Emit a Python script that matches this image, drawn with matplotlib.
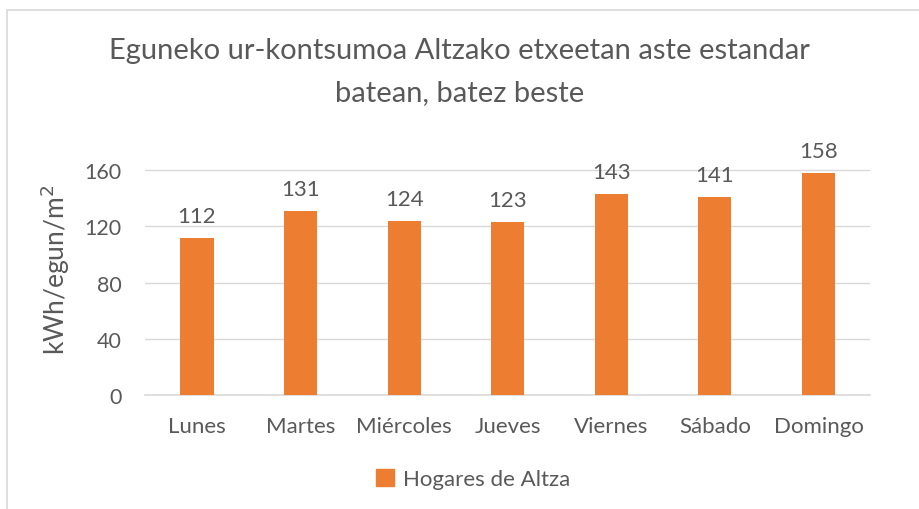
import matplotlib.pyplot as plt
from matplotlib.patches import Rectangle, Patch

days = ['Lunes', 'Martes', 'Miércoles', 'Jueves', 'Viernes', 'Sábado', 'Domingo']
kwh = [112, 131, 124, 123, 143, 141, 158]
yticks = [0, 40, 80, 120, 160]

orange = '#ED7D31'
textgray = '#595959'
plt.rcParams['font.family'] = ['Lato', 'DejaVu Sans']

fig = plt.figure(figsize=(9.19, 5.1), dpi=100)
ax = fig.add_axes([0.158, 0.2235, 0.789, 0.4961])

x = range(len(days))
bars = ax.bar(x, kwh, width=0.32, color=orange, zorder=3)
for b, v in zip(bars, kwh):
    ax.text(b.get_x() + b.get_width() / 2, v + 8.5, str(v), ha='center', va='bottom',
            fontsize=16, color=textgray)

ax.set_xlim(-0.5, len(days) - 0.5)
ax.set_ylim(0, 180)
ax.set_yticks(yticks)
ax.set_xticks(list(x))
ax.set_xticklabels(days)
ax.tick_params(axis='both', length=0, labelsize=16, labelcolor=textgray)
ax.tick_params(axis='y', labelsize=15.5, pad=17)
ax.tick_params(axis='x', pad=15)
ax.yaxis.grid(True, color='#D9D9D9', linewidth=1, zorder=0)
for s in ['top', 'right', 'left']:
    ax.spines[s].set_visible(False)
ax.spines['bottom'].set_color('#D9D9D9')
ax.spines['bottom'].set_linewidth(1.2)

ax.set_ylabel('kWh/egun/m$^2$', fontsize=19, color=textgray, labelpad=9)

fig.text(0.5, 0.925, 'Eguneko ur-kontsumoa Altzako etxeetan aste estandar\nbatean, batez beste',
         ha='center', va='top', fontsize=21, color=textgray, linespacing=1.75)

fig.legend(handles=[Patch(color=orange, label='Hogares de Altza')], loc='center',
           bbox_to_anchor=(0.515, 0.059), frameon=False, fontsize=16, labelcolor=textgray,
           handlelength=0.8, handleheight=0.8, handletextpad=0.4)

# chart border
fig.patches.append(Rectangle((7 / 919, -0.05), 1.1, 1 - 11 / 510 + 0.05, transform=fig.transFigure,
                             fill=False, edgecolor='#D9D9D9', linewidth=1.2))

fig.savefig('out.png', dpi=100, facecolor='white')
